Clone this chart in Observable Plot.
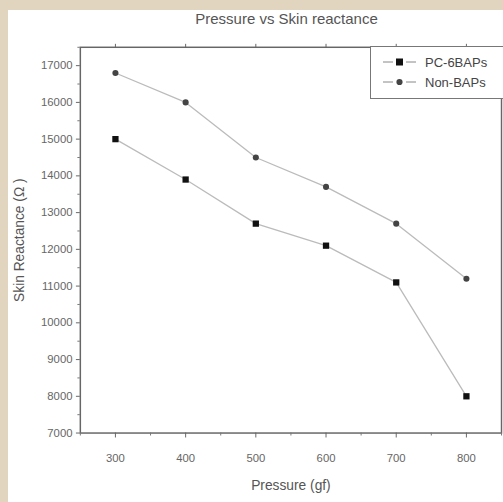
<!DOCTYPE html>
<html><head><meta charset="utf-8">
<script src="https://cdn.jsdelivr.net/npm/d3@7"></script>
<script src="https://cdn.jsdelivr.net/npm/@observablehq/plot@0.6"></script>
<style>
html,body{margin:0;padding:0;}
body{width:503px;height:502px;background:#e1d5bf;position:relative;overflow:hidden;font-family:"Liberation Sans",Arial,sans-serif;}
#panel{position:absolute;left:8px;top:10px;width:495px;height:492px;background:#fff;overflow:hidden;}
#title{height:24px;line-height:18px;text-align:center;font-size:15px;color:#555;padding-left:62px;box-sizing:border-box;}
#legend{position:absolute;left:362px;top:36px;width:140px;height:53px;border:1.5px solid #777;border-right:none;background:#fff;box-sizing:border-box;font-size:13px;color:#444;}
.row{position:absolute;left:10px;height:16px;display:flex;align-items:center;}
.row svg{margin-right:6px;}
</style></head>
<body>
<div id="panel">
  <div id="title">Pressure vs Skin reactance</div>
  <div id="chart"></div>
  <div id="legend"></div>
</div>
<script>
const pressure = [300, 400, 500, 600, 700, 800];
const pc6baps = [15000, 13900, 12700, 12100, 11100, 8000];
const nonbaps = [16800, 16000, 14500, 13700, 12700, 11200];
const seriesNames = ["PC-6BAPs", "Non-BAPs"];
const xTicks = [300, 400, 500, 600, 700, 800];
const yTicks = [7000, 8000, 9000, 10000, 11000, 12000, 13000, 14000, 15000, 16000, 17000];

const rows = [];
pressure.forEach((p, i) => {
  rows.push({series: seriesNames[0], x: p, y: pc6baps[i]});
  rows.push({series: seriesNames[1], x: p, y: nonbaps[i]});
});
const s1 = rows.filter(d => d.series === seriesNames[0]);
const s2 = rows.filter(d => d.series === seriesNames[1]);

const xMinor = d3.range(250, 851, 50).filter(v => !xTicks.includes(v));
const yMinor = d3.range(7000, 17501, 500).filter(v => !yTicks.includes(v));

const plot = Plot.plot({
  width: 503,
  height: 468,
  marginLeft: 73,
  marginRight: 2,
  marginTop: 13,
  marginBottom: 63,
  style: {fontFamily: "'Liberation Sans', Arial, sans-serif", color: "#666", background: "transparent"},
  x: {domain: [250, 850]},
  y: {domain: [7000, 17500]},
  marks: [
    Plot.frame({stroke: "#666", strokeWidth: 1.5}),
    Plot.axisX({ticks: xTicks, tickSize: 5, tickPadding: 16, fontSize: 11.5, stroke: "#666", label: "Pressure (gf)", labelAnchor: "center", labelArrow: "none", labelOffset: 58}),
    Plot.axisX({ticks: xMinor, tickSize: 3, tickFormat: () => "", stroke: "#777", label: null}),
    Plot.axisX({anchor: "top", ticks: xTicks, tickSize: 4, tickFormat: () => "", stroke: "#666", label: null}),
    Plot.axisY({ticks: yTicks, tickSize: 4, tickPadding: 4, fontSize: 11.5, tickFormat: d => String(d), stroke: "#666", label: "Skin Reactance (Ω )", labelAnchor: "center", labelArrow: "none", labelOffset: 67}),
    Plot.axisY({ticks: yMinor, tickSize: 2.5, tickFormat: () => "", stroke: "#777", label: null}),
    Plot.line(s1, {x: "x", y: "y", stroke: "#bbb", strokeWidth: 1.3}),
    Plot.line(s2, {x: "x", y: "y", stroke: "#bbb", strokeWidth: 1.3}),
    Plot.dot(s1, {x: "x", y: "y", symbol: "square", r: 3.6, fill: "#111"}),
    Plot.dot(s2, {x: "x", y: "y", symbol: "circle", r: 3.1, fill: "#444"})
  ]
});
document.getElementById("chart").appendChild(plot);

plot.querySelectorAll("[aria-label='x-axis label'] text, [aria-label='y-axis label'] text").forEach(t => {
  t.setAttribute("font-size", "14"); t.setAttribute("fill", "#555");
});

const leg = document.getElementById("legend");
seriesNames.forEach((name, i) => {
  const r = document.createElement("div");
  r.className = "row";
  r.style.top = (7 + i * 20) + "px";
  const glyph = i === 0
    ? '<rect x="15" y="3.5" width="7" height="7" fill="#111"/>'
    : '<circle cx="18.5" cy="7" r="3.1" fill="#444"/>';
  r.innerHTML = '<svg width="38" height="14"><line x1="2" y1="7" x2="12" y2="7" stroke="#888" stroke-width="1"/><line x1="25" y1="7" x2="35" y2="7" stroke="#888" stroke-width="1"/>' + glyph + '</svg><span>' + name + '</span>';
  leg.appendChild(r);
});
</script>
</body></html>
